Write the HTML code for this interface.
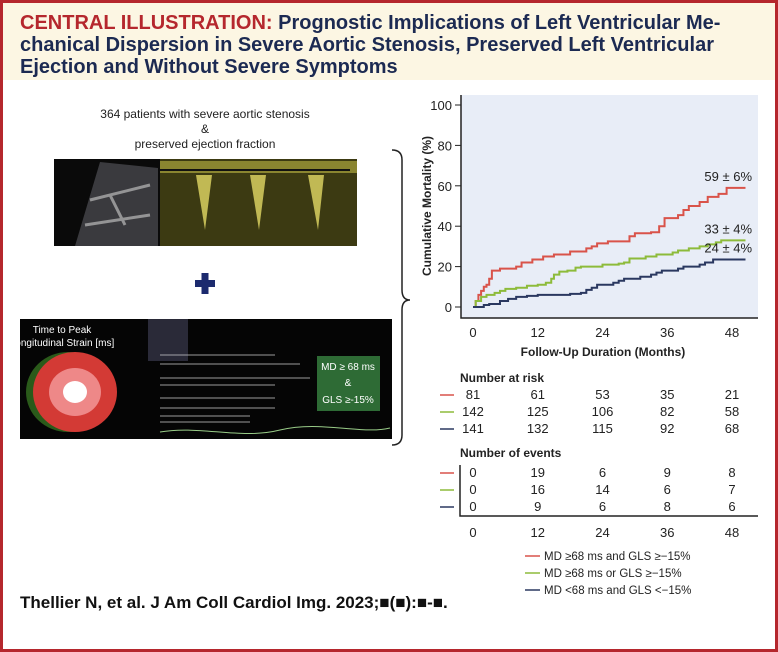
<!DOCTYPE html>
<html><head><meta charset="utf-8"><style>
html,body{margin:0;padding:0;background:#fff}
svg{display:block;font-family:"Liberation Sans",sans-serif}
.t{font-family:"Liberation Sans Narrow","Liberation Sans",sans-serif;font-weight:bold}
</style></head><body>
<svg id="fig" width="778" height="652" viewBox="0 0 778 652" xmlns="http://www.w3.org/2000/svg">
<rect x="1.5" y="1.5" width="775" height="649" fill="#fff" stroke="#b5272d" stroke-width="3"/>
<rect x="3" y="3" width="772" height="77" fill="#fcf6e3"/>
<g class="t" font-size="20">
<text x="20" y="29" fill="#1c2a52"><tspan fill="#b5272d">CENTRAL ILLUSTRATION:</tspan> Prognostic Implications of Left Ventricular Me-</text>
<text x="20" y="51" fill="#1c2a52">chanical Dispersion in Severe Aortic Stenosis, Preserved Left Ventricular</text>
<text x="20" y="73" fill="#1c2a52">Ejection and Without Severe Symptoms</text>
</g>
<g font-size="12" fill="#222" text-anchor="middle">
<text x="205" y="118">364 patients with severe aortic stenosis</text>
<text x="205" y="133">&amp;</text>
<text x="205" y="148">preserved ejection fraction</text>
</g>
<g>
<rect x="54" y="159" width="106" height="87" fill="#0a0a0a"/>
<path d="M75,246 L100,162 L158,168 L158,246 Z" fill="#3a3a3e"/>
<path d="M90,200 L150,185 M85,225 L150,215 M110,195 L125,225" stroke="#bbb" stroke-width="3" opacity="0.7"/>
<rect x="160" y="159" width="197" height="87" fill="#3c3a12"/>
<rect x="160" y="161" width="197" height="12" fill="#8a8530"/>
<line x1="160" y1="170" x2="350" y2="170" stroke="#111" stroke-width="2"/>
<path d="M196,175 L212,175 L205,230 Z M250,175 L266,175 L259,230 Z M308,175 L324,175 L318,230 Z" fill="#d8d060" opacity="0.85"/>
</g>
<g fill="#1c2a6e">
<rect x="195" y="280" width="20" height="7"/><rect x="201.5" y="273" width="7" height="21"/>
</g>
<g>
<rect x="20" y="319" width="372" height="120" fill="#050505"/>
<text x="62" y="333" font-size="10" fill="#fff" text-anchor="middle">Time to Peak</text>
<text x="62" y="346" font-size="10" fill="#fff" text-anchor="middle">Longitudinal Strain [ms]</text>
<ellipse cx="68" cy="392" rx="42" ry="40" fill="#2a5a1a"/>
<ellipse cx="75" cy="392" rx="42" ry="40" fill="#d33a35"/>
<ellipse cx="75" cy="392" rx="26" ry="24" fill="#e88"/>
<ellipse cx="75" cy="392" rx="12" ry="11" fill="#fff"/>
<rect x="148" y="319" width="40" height="42" fill="#2a2a38"/>
<g stroke="#ccc" stroke-width="0.8">
<line x1="160" y1="355" x2="275" y2="355"/><line x1="160" y1="364" x2="300" y2="364"/>
<line x1="160" y1="378" x2="310" y2="378"/><line x1="160" y1="385" x2="275" y2="385"/>
<line x1="160" y1="398" x2="275" y2="398"/><line x1="160" y1="408" x2="275" y2="408"/>
<line x1="160" y1="416" x2="250" y2="416"/><line x1="160" y1="422" x2="250" y2="422"/>
</g>
<path d="M160,432 C200,425 240,440 280,430 S360,435 390,428" stroke="#9c8" fill="none"/>
<rect x="317" y="356" width="63" height="55" fill="#2e6b35"/>
<text x="348" y="370" font-size="10" fill="#fff" text-anchor="middle">MD ≥ 68 ms</text>
<text x="348" y="386" font-size="10" fill="#fff" text-anchor="middle">&amp;</text>
<text x="348" y="403" font-size="10" fill="#fff" text-anchor="middle">GLS ≥-15%</text>
</g>
<path d="M392,150 Q402,150 402,160 L402,290 Q402,300 410,300 Q402,300 402,310 L402,435 Q402,445 392,445" fill="none" stroke="#222" stroke-width="1.5"/>
<rect x="461" y="95" width="297" height="223" fill="#e8edf7"/>
<g id="chart"></g>
<text x="20" y="608" class="t" font-size="17" fill="#111">Thellier N, et al. J Am Coll Cardiol Img. 2023;■(■):■-■.</text>
</svg>
<script>
const xTicks=[0,12,24,36,48];
const yTicks=[0,20,40,60,80,100];
const redT=[0,0.5,1,1.5,2,2.5,3,3.5,5,8,9,11,13,15,18,21,22,23,25,29,30,33,34.5,35.5,38,39,40,42,43.5,45.5,47,50.5];
const redY=[0,3,6,8,10,11,14,18,19,20,22,23.5,25,26,27.5,29,30,31.5,32.5,35,36.5,37,40,44,45.5,48,50,52,54.5,56,59,59];
const greenT=[0,0.5,1.5,2.5,4,5,6,8,10,12,13.5,14.5,15,16,17.5,19,20,24,27,28,29,32,34,37,38,40,42,43.5,45,46,50.5];
const greenY=[0,3,5,6,7,8,9,9.5,10.5,11,12,14,16,17.5,18,19.5,20,21,21.5,22,24,25,26,27,28,29,30,31,32,33,33];
const navyT=[0,2,3,5,6.5,8,10,12,18,20,21,22,23,26,27,28,31,33,34,35,38,39,42,43,44.5,50.5];
const navyY=[0,1,1.5,3,4,5,5.5,6,6.5,7,8.5,9.5,11,12,13,14,15,16,17,18,19,20,21,22,23.5,23.5];
const endLabels=["59 ± 6%","33 ± 4%","24 ± 4%"];
const riskRed=[81,61,53,35,21];
const riskGreen=[142,125,106,82,58];
const riskNavy=[141,132,115,92,68];
const evRed=[0,19,6,9,8];
const evGreen=[0,16,14,6,7];
const evNavy=[0,9,6,8,6];
const legendLabels=["MD ≥68 ms and GLS ≥−15%","MD ≥68 ms or GLS ≥−15%","MD <68 ms and GLS <−15%"];
const colors=["#d9534a","#8dbb3a","#2a3860"];
const NS="http://www.w3.org/2000/svg";
const g=document.getElementById('chart');
const X=m=>473+m*(732-473)/48;
const Y=v=>307-v*(307-105)/100;
function mk(tag,attrs,text){const e=document.createElementNS(NS,tag);for(const k in attrs)e.setAttribute(k,attrs[k]);if(text!==undefined)e.textContent=text;g.appendChild(e);return e;}
// axes
let a=mk('path',{d:`M461,95 L461,318 L758,318`,fill:'none',stroke:'#222','stroke-width':1.5});


yTicks.forEach(v=>{
 let l=mk('line',{x1:455,x2:461,y1:Y(v),y2:Y(v),stroke:'#222'});
 
 
 let t=mk('text',{x:452,y:Y(v)+5,'font-size':13,'text-anchor':'end',fill:'#222'},v);
 
 
});
xTicks.forEach(v=>{
 let t=mk('text',{x:X(v),y:337,'font-size':13,'text-anchor':'middle',fill:'#222'},v);
 
 
});
let yt=mk('text',{transform:'translate(431,206) rotate(-90)','font-size':12,'font-weight':'bold','text-anchor':'middle',fill:'#222'},'Cumulative Mortality (%)');


let xt=mk('text',{x:603,y:356,'font-size':12,'font-weight':'bold','text-anchor':'middle',fill:'#222'},'Follow-Up Duration (Months)');


const series=[[redT,redY],[greenT,greenY],[navyT,navyY]];
const names=['red','green','navy'];
series.forEach((s,i)=>{
 let d=`M${X(s[0][0])},${Y(s[1][0])}`;
 for(let k=1;k<s[0].length;k++){d+=` L${X(s[0][k])},${Y(s[1][k-1])} L${X(s[0][k])},${Y(s[1][k])}`;}
 let p=mk('path',{d,fill:'none',stroke:colors[i],'stroke-width':2});
 
 
 const last=s[1][s[1].length-1];
 let t=mk('text',{x:752,y:Y(last)-7,'font-size':13,'text-anchor':'end',fill:'#222'},endLabels[i]);
 
 
});
let h1=mk('text',{x:460,y:382,'font-size':12,'font-weight':'bold',fill:'#222'},'Number at risk');


[riskRed,riskGreen,riskNavy].forEach((row,i)=>{
 const y=399+i*17;
 let l=mk('line',{x1:440,x2:454,y1:y-4,y2:y-4,stroke:colors[i],'stroke-width':1.5});
 
 
 row.forEach((v,j)=>{
  let t=mk('text',{x:X(xTicks[j]),y,'font-size':13,'text-anchor':'middle',fill:'#222'},v);
  
  
 });
});
let h2=mk('text',{x:460,y:457,'font-size':12,'font-weight':'bold',fill:'#222'},'Number of events');


[evRed,evGreen,evNavy].forEach((row,i)=>{
 const y=477+i*17;
 let l=mk('line',{x1:440,x2:454,y1:y-4,y2:y-4,stroke:colors[i],'stroke-width':1.5});
 
 
 row.forEach((v,j)=>{
  let t=mk('text',{x:X(xTicks[j]),y,'font-size':13,'text-anchor':'middle',fill:'#222'},v);
  
  
 });
});
let ea=mk('path',{d:'M460,465 L460,516 L758,516',fill:'none',stroke:'#222','stroke-width':1.5});


xTicks.forEach(v=>{
 let t=mk('text',{x:X(v),y:537,'font-size':13,'text-anchor':'middle',fill:'#222'},v);
 
 
});
legendLabels.forEach((lab,i)=>{
 const y=556+i*17;
 let l=mk('line',{x1:525,x2:540,y1:y,y2:y,stroke:colors[i],'stroke-width':1.5});
 
 
 let t=mk('text',{x:544,y:y+4,'font-size':11.5,fill:'#222'},lab);
 
 
});
</script>
</body></html>
